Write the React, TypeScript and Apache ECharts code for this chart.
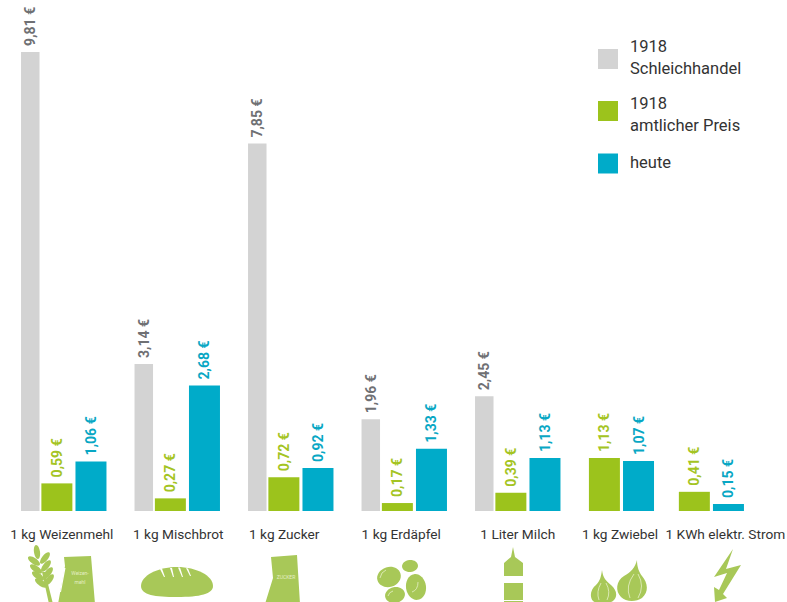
import React, { useEffect, useRef } from "react";
import * as echarts from "echarts";

const mainCategories = ["1 kg Weizenmehl", "1 kg Mischbrot", "1 kg Zucker", "1 kg Erdäpfel", "1 Liter Milch"];
const extraCategories = ["1 kg Zwiebel", "1 KWh elektr. Strom"];
const blackMarket = [9.81, 3.14, 7.85, 1.96, 2.45];
const officialMain = [0.59, 0.27, 0.72, 0.17, 0.39];
const todayMain = [1.06, 2.68, 0.92, 1.33, 1.13];
const officialExtra = [1.13, 0.41];
const todayExtra = [1.07, 0.15];
const seriesNames = ["1918\nSchleichhandel", "1918\namtlicher Preis", "heute"];

const FONT = '"Roboto", sans-serif';
const GRAY = "#d3d3d3";
const GREEN = "#9cc31c";
const BLUE = "#00abc9";
const ICON = "#a8c858";

const shapes: Record<string, string> = {
  bag1: "M64 557L91 556L95 604L58 604L65 566Z",
  bag2: "M271 557L297 555L300 604L265 604L273 578Z",
  bread: "M141 586C141 576 157 567 177 567C197 567 213 576 213 586C213 594 200 597 177 597C155 597 141 595 141 586Z",
  bottle: "M513 547L515 557L523 563L523 604L504 604L504 563L511 557Z",
  bolt: "M733 549L714 577L727 573L719 590L714 587L715 602L727 598L723 594L741 565L726 569Z",
  onion1: "M602 570C603 578 606 581 611 585C617 590 618 597 613 601C609 604 596 604 593 601C589 596 591 589 596 585C600 581 601 577 602 570Z",
  onion2: "M637 560C637 567 639 572 642 576C648 583 649 592 642 598C636 602 626 602 621 597C615 591 616 581 624 576C631 572 635 568 637 560Z",
};
Object.keys(shapes).forEach((k) => {
  echarts.graphic.registerShape("icon_" + k, echarts.graphic.extendPath(shapes[k], {}));
});

const price = (v: number) => v.toFixed(2).replace(".", ",") + " €";

function valueLabel(color: string) {
  return {
    show: true,
    position: "top",
    rotate: 90,
    align: "left",
    verticalAlign: "middle",
    distance: 6,
    color,
    fontFamily: FONT,
    fontSize: 14,
    fontWeight: "bold",
    formatter: (p: any) => price(p.value),
  };
}

function bar(name: string, data: number[], color: string, width: number, labelColor: string, axis: number) {
  return {
    type: "bar",
    name,
    data,
    barWidth: width,
    barGap: "10%",
    xAxisIndex: axis,
    yAxisIndex: axis,
    itemStyle: { color },
    label: valueLabel(labelColor),
  };
}

const allCategories = [...mainCategories, ...extraCategories];
const labelPads = [[0, 4], [2, 0], [0, 13], [0, 6], [0, 0], [0, 3], [28, 0]];
const labelFont = { fontFamily: FONT, fontSize: 13.7, color: "#333" };
const labelRich: Record<string, any> = {};
labelPads.forEach(([l, r], i) => {
  labelRich["c" + i] = { ...labelFont, padding: [0, r, 0, l] };
});

function xAxis(data: string[], gridIndex: number) {
  return {
    type: "category",
    gridIndex,
    data,
    axisLine: { show: false },
    axisTick: { show: false },
    axisLabel: {
      interval: 0,
      margin: 16,
      hideOverlap: false,
      ...labelFont,
      formatter: (v: string) => `{c${allCategories.indexOf(v)}|${v}}`,
      rich: labelRich,
    },
  };
}

function yAxis(gridIndex: number) {
  return { type: "value", gridIndex, min: 0, max: 10, show: false };
}

function legendText(n: string) {
  if (n === seriesNames[2]) return `{h|${n}}`;
  if (n === seriesNames[1]) {
    const [a, b] = n.split("\n");
    return `{s| }\n{t|${a}}\n{t|${b}}`;
  }
  return n;
}

const icon = (k: string) => ({ type: "icon_" + k, silent: true, style: { fill: ICON } });
const ell = (cx: number, cy: number, rx: number, ry: number, rotation = 0, fill = ICON) => ({
  type: "ellipse",
  x: cx,
  y: cy,
  rotation,
  shape: { cx: 0, cy: 0, rx, ry },
  style: { fill },
  silent: true,
});
const poly = (points: number[][], fill = "#fff") => ({
  type: "polygon",
  shape: { points },
  style: { fill },
  silent: true,
});
const vein = (x1: number, y1: number, cx: number, cy: number, x2: number, y2: number) => ({
  type: "bezierCurve",
  shape: { x1, y1, cpx1: cx, cpy1: cy, x2, y2 },
  style: { stroke: "#e6f0c8", lineWidth: 0.8, fill: "none" },
  silent: true,
});
const tinyText = (x: number, y: number, text: string) => ({
  type: "text",
  x,
  y,
  silent: true,
  style: { text, fill: "#e4eec4", fontSize: 5, fontFamily: FONT, align: "center", verticalAlign: "middle" },
});

export default function App() {
  const ref = useRef<HTMLDivElement>(null);
  useEffect(() => {
    const chart = echarts.init(ref.current!, undefined, { renderer: "svg" });
    chart.setOption({
      animation: false,
      backgroundColor: "#fff",
      grid: [
        { left: 7, width: 567.5, top: 43, height: 468 },
        { left: 576.5, width: 185, top: 43, height: 468 },
      ],
      xAxis: [xAxis(mainCategories, 0), xAxis(extraCategories, 1)],
      yAxis: [yAxis(0), yAxis(1)],
      legend: {
        orient: "vertical",
        left: 598,
        top: 35.5,
        padding: 0,
        itemWidth: 20,
        itemHeight: 20,
        itemGap: 0.5,
        icon: "rect",
        data: seriesNames,
        formatter: legendText,
        textStyle: {
          color: "#333",
          fontFamily: FONT,
          fontSize: 16.5,
          lineHeight: 22,
          padding: [0, 0, 3, 7],
          rich: {
            h: { fontFamily: FONT, fontSize: 16.5, color: "#333", lineHeight: 45 },
            t: { fontFamily: FONT, fontSize: 16.5, color: "#333", lineHeight: 22 },
            s: { fontFamily: FONT, fontSize: 8, lineHeight: 9 },
          },
        },
      },
      series: [
        bar(seriesNames[0], blackMarket, GRAY, 18.5, "#6f7073", 0),
        bar(seriesNames[1], officialMain, GREEN, 31, "#a4c423", 0),
        bar(seriesNames[2], todayMain, BLUE, 31, "#08a7c4", 0),
        bar(seriesNames[1], officialExtra, GREEN, 31, "#a4c423", 1),
        bar(seriesNames[2], todayExtra, BLUE, 31, "#08a7c4", 1),
      ],
      graphic: [
        // wheat
        poly([[42, 572], [45, 572], [53, 604], [49, 604]], ICON),
        ell(37, 552, 3, 7, 0.15),
        ell(34, 561, 7, 3, -0.6), ell(36, 569, 7, 3, -0.6), ell(38, 576, 7, 3, -0.6), ell(41, 583, 7, 3, -0.6),
        ell(45, 558, 7, 3, 0.9), ell(46, 566, 7, 3, 0.9), ell(48, 573, 7, 3, 0.9), ell(49, 580, 7, 3, 0.9),
        // flour bag
        icon("bag1"),
        poly([[64, 568], [65.5, 568], [61, 592], [60, 592]]),
        tinyText(80, 573, "Weizen-"),
        tinyText(80, 582, "mehl"),
        // bread
        icon("bread"),
        poly([[160, 569], [162, 568.5], [165, 577], [164, 577]]),
        poly([[170, 568], [172, 568], [174, 577], [173, 577]]),
        poly([[178, 567.5], [180, 567.5], [183, 577], [182, 577]]),
        poly([[186, 568], [188, 568.5], [191, 576], [190, 576]]),
        // sugar bag
        icon("bag2"),
        tinyText(286, 577, "ZUCKER"),
        // potatoes
        ell(389, 577, 12, 10, 0.3), ell(410, 566, 8, 6, 0.1), ell(416, 587, 10, 13, 0.15), ell(395, 595, 10, 8, 0.2),
        vein(380, 578, 381, 572, 386, 570),
        vein(412, 592, 418, 590, 418, 582),
        vein(388, 596, 389, 592, 393, 591),
        // bottle
        icon("bottle"),
        { type: "rect", shape: { x: 504, y: 576, width: 19, height: 7 }, style: { fill: "#fff" }, silent: true },
        { type: "rect", shape: { x: 504, y: 600, width: 19, height: 1 }, style: { fill: "#fff" }, silent: true },
        // onions
        icon("onion1"), icon("onion2"),
        vein(601, 583, 596, 592, 599, 600),
        vein(606, 583, 611, 592, 607, 600),
        vein(634, 574, 625, 586, 630, 598),
        vein(638, 574, 645, 586, 638, 598),
        // lightning
        icon("bolt"),
      ],
    });
    return () => chart.dispose();
  }, []);
  return <div ref={ref} style={{ position: "fixed", left: 0, top: 0, width: 787, height: 602 }} />;
}
